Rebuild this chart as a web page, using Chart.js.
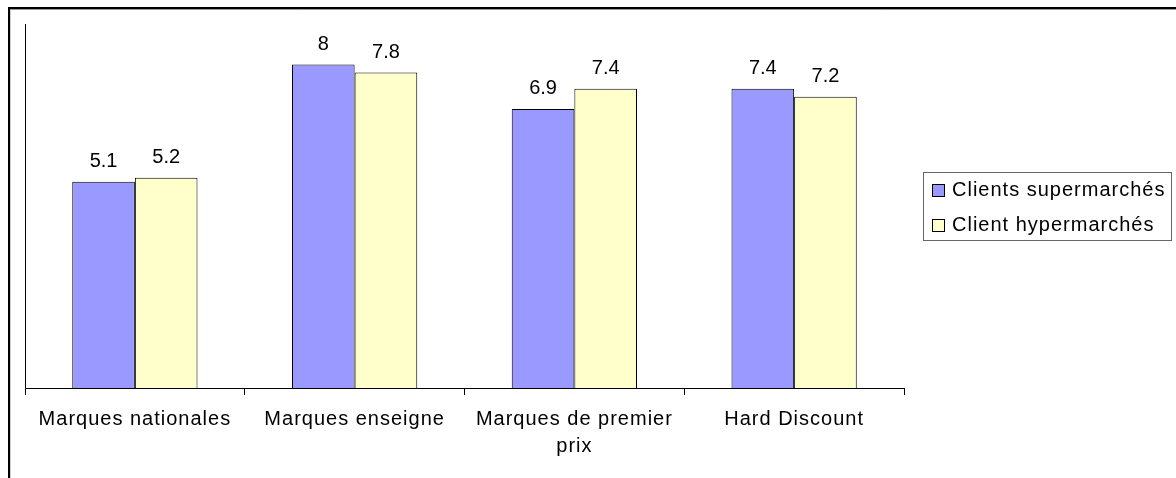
<!DOCTYPE html>
<html>
<head>
<meta charset="utf-8">
<script src="https://cdn.jsdelivr.net/npm/chart.js@4/dist/chart.umd.min.js"></script>
<style>
  html, body { margin: 0; padding: 0; background: #fff; overflow: hidden; }
  #wrap { width: 1176px; height: 478px; }
</style>
</head>
<body>
<div id="wrap"><canvas id="graphique"></canvas></div>
<script>
const categories = ["Marques nationales", "Marques enseigne", ["Marques de premier", "prix"], "Hard Discount"];
const seriesNames = ["Clients supermarchés", "Client hypermarchés"];
const supermarches = [5.1, 8, 6.9, 7.4];
const hypermarches = [5.2, 7.8, 7.4, 7.2];
const couleurs = ["#9999FF", "#FFFFCC"];

const police = "'Liberation Sans', Arial, sans-serif";

// espacement des lettres un peu plus large, comme dans Excel
const espacement = {
    id: "espacement",
    beforeUpdate(chart) { chart.ctx.letterSpacing = "1px"; },
    beforeDraw(chart) { chart.ctx.letterSpacing = "1px"; }
};

// cadre extérieur (haut et gauche seulement, le reste sort de l'image)
const cadre = {
    id: "cadre",
    beforeDraw(chart) {
        const ctx = chart.ctx;
        ctx.save();
        ctx.strokeStyle = "#999";
        ctx.lineWidth = 1;
        ctx.beginPath();
        ctx.moveTo(10, 478); ctx.lineTo(10, 9.5); ctx.lineTo(1176, 9.5);
        ctx.stroke();
        ctx.strokeStyle = "#000";
        ctx.lineWidth = 2;
        ctx.beginPath();
        ctx.moveTo(9, 478); ctx.lineTo(9, 8); ctx.lineTo(1176, 8);
        ctx.stroke();
        ctx.restore();
    }
};

// valeurs au-dessus des barres
const etiquettes = {
    id: "etiquettes",
    afterDatasetsDraw(chart) {
        const ctx = chart.ctx;
        ctx.save();
        ctx.letterSpacing = "0px";
        ctx.font = "20px " + police;
        ctx.fillStyle = "#000";
        ctx.textAlign = "center";
        ctx.textBaseline = "bottom";
        chart.data.datasets.forEach((ds, i) => {
            chart.getDatasetMeta(i).data.forEach((bar, j) => {
                ctx.fillText(String(ds.data[j]), bar.x, bar.y - 10);
            });
        });
        ctx.restore();
    }
};

// légende encadrée à droite
const legende = {
    id: "legende",
    afterDraw(chart) {
        const ctx = chart.ctx;
        ctx.save();
        ctx.strokeStyle = "#666";
        ctx.lineWidth = 1;
        ctx.strokeRect(923.5, 172.5, 248, 68);
        ctx.font = "20px " + police;
        ctx.letterSpacing = "1px";
        ctx.textBaseline = "middle";
        chart.data.datasets.forEach((ds, i) => {
            const y = 190 + i * 35;
            ctx.fillStyle = ds.backgroundColor;
            ctx.fillRect(932, y - 6, 12, 12);
            ctx.strokeStyle = "#000";
            ctx.strokeRect(932.5, y - 5.5, 12, 12);
            ctx.fillStyle = "#000";
            ctx.fillText(ds.label, 952, y);
        });
        ctx.restore();
    }
};

const data = {
    labels: categories,
    datasets: [
        { label: seriesNames[0], data: supermarches, backgroundColor: couleurs[0], borderColor: "#000", borderWidth: 1 },
        { label: seriesNames[1], data: hypermarches, backgroundColor: couleurs[1], borderColor: "#000", borderWidth: 1 }
    ]
};

const config = {
    type: "bar",
    data: data,
    options: {
        responsive: true,
        maintainAspectRatio: false,
        animation: false,
        layout: { padding: { left: 0, top: 24, right: 272, bottom: 0 } },
        datasets: { bar: { categoryPercentage: 0.57, barPercentage: 1 } },
        plugins: {
            legend: { display: false },
            tooltip: { enabled: false }
        },
        scales: {
            x: {
                grid: { display: true, drawOnChartArea: false, drawTicks: true, tickLength: 7, color: "#000", offset: true },
                border: { display: true, color: "#000" },
                ticks: { color: "#000", font: { family: police, size: 20, lineHeight: 1.35 }, padding: 11, maxRotation: 0, autoSkip: false },
                afterFit(s) { s.height = 90; }
            },
            y: {
                min: 0,
                max: 9,
                grid: { display: false },
                border: { display: true, color: "#000" },
                ticks: { display: false },
                afterFit(s) { s.width = 25; }
            }
        }
    },
    plugins: [espacement, cadre, etiquettes, legende]
};

const graphique = new Chart(document.querySelector("#graphique"), config);
</script>
</body>
</html>
